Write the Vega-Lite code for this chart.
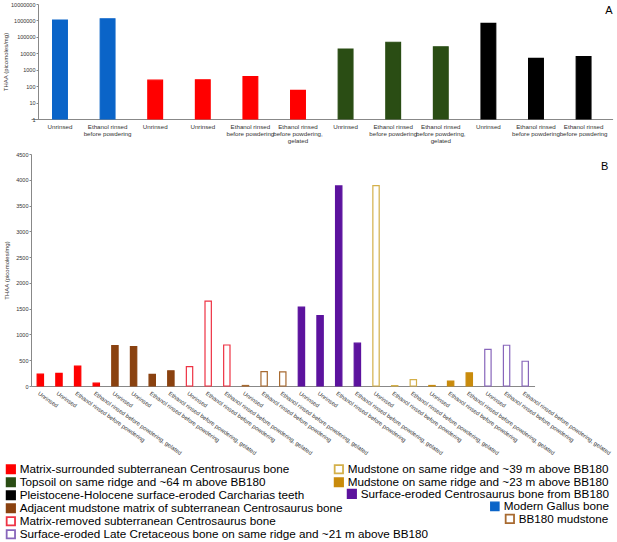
{
  "$schema": "https://vega.github.io/schema/vega-lite/v6.json",
  "padding": {"left": 2, "top": 2, "right": 2, "bottom": 2},
  "background": "white",
  "spacing": 8,
  "align": "none",
  "datasets": {
    "a": [
      {"key": "Unrinsed#a1", "value": 1050000, "group": "Modern Gallus bone"},
      {"key": "Ethanol rinsed|before powdering#a2", "value": 1250000, "group": "Modern Gallus bone"},
      {"key": "Unrinsed#a3", "value": 230, "group": "Matrix-surrounded subterranean Centrosaurus bone"},
      {"key": "Unrinsed#a4", "value": 245, "group": "Matrix-surrounded subterranean Centrosaurus bone"},
      {"key": "Ethanol rinsed|before powdering#a5", "value": 385, "group": "Matrix-surrounded subterranean Centrosaurus bone"},
      {"key": "Ethanol rinsed|before powdering,|gelated#a6", "value": 55, "group": "Matrix-surrounded subterranean Centrosaurus bone"},
      {"key": "Unrinsed#a7", "value": 18000, "group": "Topsoil on same ridge and ~64 m above BB180"},
      {"key": "Ethanol rinsed|before powdering#a8", "value": 47000, "group": "Topsoil on same ridge and ~64 m above BB180"},
      {"key": "Ethanol rinsed|before powdering,|gelated#a9", "value": 25000, "group": "Topsoil on same ridge and ~64 m above BB180"},
      {"key": "Unrinsed#a10", "value": 660000, "group": "Pleistocene-Holocene surface-eroded Carcharias teeth"},
      {"key": "Ethanol rinsed|before powdering#a11", "value": 4900, "group": "Pleistocene-Holocene surface-eroded Carcharias teeth"},
      {"key": "Ethanol rinsed|before powdering#a12", "value": 6200, "group": "Pleistocene-Holocene surface-eroded Carcharias teeth"}
    ],
    "b": [
      {"key": "Unrinsed#b1", "value": 230, "group": "Matrix-surrounded subterranean Centrosaurus bone"},
      {"key": "Unrinsed#b2", "value": 245, "group": "Matrix-surrounded subterranean Centrosaurus bone"},
      {"key": "Ethanol rinsed before powdering#b3", "value": 385, "group": "Matrix-surrounded subterranean Centrosaurus bone"},
      {"key": "Ethanol rinsed before powdering, gelated#b4", "value": 55, "group": "Matrix-surrounded subterranean Centrosaurus bone"},
      {"key": "Unrinsed#b5", "value": 785, "group": "Adjacent mudstone matrix of subterranean Centrosaurus bone"},
      {"key": "Unrinsed#b6", "value": 765, "group": "Adjacent mudstone matrix of subterranean Centrosaurus bone"},
      {"key": "Ethanol rinsed before powdering#b7", "value": 225, "group": "Adjacent mudstone matrix of subterranean Centrosaurus bone"},
      {"key": "Ethanol rinsed before powdering, gelated#b8", "value": 295, "group": "Adjacent mudstone matrix of subterranean Centrosaurus bone"},
      {"key": "Unrinsed#b9", "value": 375, "group": "Matrix-removed subterranean Centrosaurus bone"},
      {"key": "Ethanol rinsed before powdering#b10", "value": 1645, "group": "Matrix-removed subterranean Centrosaurus bone"},
      {"key": "Ethanol rinsed before powdering, gelated#b11", "value": 795, "group": "Matrix-removed subterranean Centrosaurus bone"},
      {"key": "Unrinsed#b12", "value": 10, "group": "BB180 mudstone"},
      {"key": "Ethanol rinsed before powdering#b13", "value": 280, "group": "BB180 mudstone"},
      {"key": "Ethanol rinsed before powdering, gelated#b14", "value": 275, "group": "BB180 mudstone"},
      {"key": "Unrinsed#b15", "value": 1530, "group": "Surface-eroded Centrosaurus bone from BB180"},
      {"key": "Unrinsed#b16", "value": 1365, "group": "Surface-eroded Centrosaurus bone from BB180"},
      {"key": "Ethanol rinsed before powdering#b17", "value": 3880, "group": "Surface-eroded Centrosaurus bone from BB180"},
      {"key": "Ethanol rinsed before powdering, gelated#b18", "value": 830, "group": "Surface-eroded Centrosaurus bone from BB180"},
      {"key": "Unrinsed#b19", "value": 3885, "group": "Mudstone on same ridge and ~39 m above BB180"},
      {"key": "Ethanol rinsed before powdering#b20", "value": 8, "group": "Mudstone on same ridge and ~39 m above BB180"},
      {"key": "Ethanol rinsed before powdering, gelated#b21", "value": 125, "group": "Mudstone on same ridge and ~39 m above BB180"},
      {"key": "Unrinsed#b22", "value": 10, "group": "Mudstone on same ridge and ~23 m above BB180"},
      {"key": "Ethanol rinsed before powdering#b23", "value": 95, "group": "Mudstone on same ridge and ~23 m above BB180"},
      {"key": "Ethanol rinsed before powdering, gelated#b24", "value": 255, "group": "Mudstone on same ridge and ~23 m above BB180"},
      {"key": "Unrinsed#b25", "value": 710, "group": "Surface-eroded Late Cretaceous bone on same ridge and ~21 m above BB180"},
      {"key": "Ethanol rinsed before powdering#b26", "value": 790, "group": "Surface-eroded Late Cretaceous bone on same ridge and ~21 m above BB180"},
      {"key": "Ethanol rinsed before powdering, gelated#b27", "value": 480, "group": "Surface-eroded Late Cretaceous bone on same ridge and ~21 m above BB180"}
    ]
  },
  "vconcat": [
    {
      "data": {"name": "a"},
      "width": {"step": 47.6},
      "height": 115,
      "title": {"text": "A", "anchor": "end", "offset": -14, "fontSize": 11, "fontWeight": "normal", "font": "Liberation Sans", "color": "#000"},
      "mark": {"type": "bar", "strokeWidth": 1.2},
      "encoding": {
        "x": {"field": "key", "type": "nominal", "sort": null,
          "scale": {"paddingInner": 0.69, "paddingOuter": 0.454},
          "axis": {"title": null, "labelAngle": 0, "labelExpr": "split(split(datum.label, '#')[0], '|')", "labelLineHeight": 7, "labelOverlap": false, "ticks": false, "labelPadding": 4, "labelFontSize": 6.2}},
        "y": {"field": "value", "type": "quantitative",
          "scale": {"type": "log", "domain": [1, 10000000]},
          "axis": {"title": "THAA (picomoles/mg)", "values": [1, 10, 100, 1000, 10000, 100000, 1000000, 10000000], "format": "d", "titlePadding": 2, "labelFontSize": 5.5, "labelPadding": 1, "tickSize": 2, "offset": -7}},
        "y2": {"datum": 1},
        "fill": {"field": "group", "type": "nominal",
          "scale": {
            "domain": ["Matrix-surrounded subterranean Centrosaurus bone", "Topsoil on same ridge and ~64 m above BB180", "Pleistocene-Holocene surface-eroded Carcharias teeth", "Adjacent mudstone matrix of subterranean Centrosaurus bone", "Matrix-removed subterranean Centrosaurus bone", "Surface-eroded Late Cretaceous bone on same ridge and ~21 m above BB180", "Mudstone on same ridge and ~39 m above BB180", "Mudstone on same ridge and ~23 m above BB180", "Surface-eroded Centrosaurus bone from BB180", "Modern Gallus bone", "BB180 mudstone"],
            "range": ["#ff0000", "#2a4d14", "#000000", "#8a4210", "#ffffff", "#ffffff", "#ffffff", "#c98b0c", "#5c139e", "#0a64c8", "#ffffff"]},
          "legend": {"title": null, "orient": "none", "legendX": -26, "legendY": 459, "padding": 0,
            "values": ["Matrix-surrounded subterranean Centrosaurus bone", "Topsoil on same ridge and ~64 m above BB180", "Pleistocene-Holocene surface-eroded Carcharias teeth", "Adjacent mudstone matrix of subterranean Centrosaurus bone", "Matrix-removed subterranean Centrosaurus bone", "Surface-eroded Late Cretaceous bone on same ridge and ~21 m above BB180"],
            "symbolType": "square", "symbolSize": 70, "symbolStrokeWidth": 1.8, "labelFontSize": 11.7, "labelFont": "Liberation Sans", "labelColor": "#000", "labelLimit": 500, "rowPadding": 0, "clipHeight": 12.5, "labelOffset": 3,
            "encode": {"symbols": {"update": {"stroke": {"scale": "stroke", "field": "value"}}}}}},
        "stroke": {"field": "group", "type": "nominal",
          "scale": {
            "domain": ["Mudstone on same ridge and ~39 m above BB180", "Mudstone on same ridge and ~23 m above BB180", "Surface-eroded Centrosaurus bone from BB180", "Modern Gallus bone", "BB180 mudstone", "Matrix-surrounded subterranean Centrosaurus bone", "Topsoil on same ridge and ~64 m above BB180", "Pleistocene-Holocene surface-eroded Carcharias teeth", "Adjacent mudstone matrix of subterranean Centrosaurus bone", "Matrix-removed subterranean Centrosaurus bone", "Surface-eroded Late Cretaceous bone on same ridge and ~21 m above BB180"],
            "range": ["#d4b04a", "#c98b0c", "#5c139e", "#0a64c8", "#a86a30", "#ff0000", "#2a4d14", "#000000", "#8a4210", "#ee3344", "#8866bb"]},
          "legend": {"title": null, "orient": "none", "legendX": 302, "legendY": 459, "padding": 0,
            "values": ["Mudstone on same ridge and ~39 m above BB180", "Mudstone on same ridge and ~23 m above BB180"],
            "symbolType": "square", "symbolSize": 70, "symbolStrokeWidth": 1.8, "symbolFillColor": "white", "labelFontSize": 11.7, "labelFont": "Liberation Sans", "labelColor": "#000", "labelLimit": 500, "rowPadding": 0, "clipHeight": 12.5, "labelOffset": 3,
            "encode": {"symbols": {"update": {"fill": {"scale": "fill", "field": "value"}}}}}},
        "opacity": {"field": "group", "type": "nominal",
          "scale": {"type": "ordinal",
            "domain": ["Surface-eroded Centrosaurus bone from BB180", "Mudstone on same ridge and ~39 m above BB180", "Mudstone on same ridge and ~23 m above BB180", "Modern Gallus bone", "BB180 mudstone", "Matrix-surrounded subterranean Centrosaurus bone", "Topsoil on same ridge and ~64 m above BB180", "Pleistocene-Holocene surface-eroded Carcharias teeth", "Adjacent mudstone matrix of subterranean Centrosaurus bone", "Matrix-removed subterranean Centrosaurus bone", "Surface-eroded Late Cretaceous bone on same ridge and ~21 m above BB180"],
            "range": [1, 1, 1, 1, 1, 1, 1, 1, 1, 1, 1]},
          "legend": {"title": null, "orient": "none", "legendX": 315, "legendY": 484, "padding": 0,
            "values": ["Surface-eroded Centrosaurus bone from BB180"],
            "symbolType": "square", "symbolSize": 70, "symbolStrokeWidth": 1.8, "symbolFillColor": "white", "symbolStrokeColor": "white", "labelFontSize": 11.7, "labelFont": "Liberation Sans", "labelColor": "#000", "labelLimit": 500, "labelOffset": 3,
            "encode": {"symbols": {"update": {"fill": {"scale": "fill", "field": "value"}, "stroke": {"scale": "stroke", "field": "value"}}}}}},
        "strokeWidth": {"field": "group", "type": "nominal",
          "scale": {"type": "ordinal",
            "domain": ["Modern Gallus bone", "Surface-eroded Centrosaurus bone from BB180", "Mudstone on same ridge and ~39 m above BB180", "Mudstone on same ridge and ~23 m above BB180", "BB180 mudstone", "Matrix-surrounded subterranean Centrosaurus bone", "Topsoil on same ridge and ~64 m above BB180", "Pleistocene-Holocene surface-eroded Carcharias teeth", "Adjacent mudstone matrix of subterranean Centrosaurus bone", "Matrix-removed subterranean Centrosaurus bone", "Surface-eroded Late Cretaceous bone on same ridge and ~21 m above BB180"],
            "range": [1.2, 1.2, 1.2, 1.2, 1.2, 1.2, 1.2, 1.2, 1.2, 1.2, 1.2]},
          "legend": {"title": null, "orient": "none", "legendX": 458, "legendY": 496.5, "padding": 0,
            "values": ["Modern Gallus bone"],
            "symbolType": "square", "symbolSize": 70, "symbolStrokeWidth": 1.8, "symbolFillColor": "white", "symbolStrokeColor": "white", "labelFontSize": 11.7, "labelFont": "Liberation Sans", "labelColor": "#000", "labelLimit": 500, "labelOffset": 3,
            "encode": {"symbols": {"update": {"fill": {"scale": "fill", "field": "value"}, "stroke": {"scale": "stroke", "field": "value"}, "strokeWidth": {"value": 1.8}}}}}},
        "strokeDash": {"field": "group", "type": "nominal",
          "scale": {"type": "ordinal",
            "domain": ["BB180 mudstone", "Modern Gallus bone", "Surface-eroded Centrosaurus bone from BB180", "Mudstone on same ridge and ~39 m above BB180", "Mudstone on same ridge and ~23 m above BB180", "Matrix-surrounded subterranean Centrosaurus bone", "Topsoil on same ridge and ~64 m above BB180", "Pleistocene-Holocene surface-eroded Carcharias teeth", "Adjacent mudstone matrix of subterranean Centrosaurus bone", "Matrix-removed subterranean Centrosaurus bone", "Surface-eroded Late Cretaceous bone on same ridge and ~21 m above BB180"],
            "range": [[1, 0], [1, 0], [1, 0], [1, 0], [1, 0], [1, 0], [1, 0], [1, 0], [1, 0], [1, 0], [1, 0]]},
          "legend": {"title": null, "orient": "none", "legendX": 473, "legendY": 509, "padding": 0,
            "values": ["BB180 mudstone"],
            "symbolType": "square", "symbolSize": 70, "symbolStrokeWidth": 1.8, "symbolFillColor": "white", "symbolStrokeColor": "white", "labelFontSize": 11.7, "labelFont": "Liberation Sans", "labelColor": "#000", "labelLimit": 500, "labelOffset": 3,
            "encode": {"symbols": {"update": {"fill": {"scale": "fill", "field": "value"}, "stroke": {"scale": "stroke", "field": "value"}, "strokeWidth": {"value": 1.8}}}}}}
      }
    },
    {
      "data": {"name": "b"},
      "width": {"step": 18.65},
      "height": 232,
      "title": {"text": "B", "anchor": "end", "offset": -20, "dx": -3, "fontSize": 11, "fontWeight": "normal", "font": "Liberation Sans", "color": "#000"},
      "mark": {"type": "bar", "strokeWidth": 1.2},
      "encoding": {
        "x": {"field": "key", "type": "nominal", "sort": null,
          "scale": {"paddingInner": 0.66, "paddingOuter": 0.33},
          "axis": {"title": null, "labelAngle": 35, "labelAlign": "left", "labelBaseline": "top", "labelExpr": "split(datum.label, '#')[0]", "labelOverlap": false, "ticks": false, "labelPadding": 4, "labelFontSize": 5.8, "labelLimit": 300}},
        "y": {"field": "value", "type": "quantitative",
          "scale": {"domain": [0, 4500]},
          "axis": {"title": "THAA (picomoles/mg)", "values": [0, 500, 1000, 1500, 2000, 2500, 3000, 3500, 4000, 4500], "format": "d", "titlePadding": 6.5, "labelFontSize": 5.5, "labelPadding": 1, "tickSize": 2}},
        "fill": {"field": "group", "type": "nominal",
          "scale": {
            "domain": ["Matrix-surrounded subterranean Centrosaurus bone", "Topsoil on same ridge and ~64 m above BB180", "Pleistocene-Holocene surface-eroded Carcharias teeth", "Adjacent mudstone matrix of subterranean Centrosaurus bone", "Matrix-removed subterranean Centrosaurus bone", "Surface-eroded Late Cretaceous bone on same ridge and ~21 m above BB180", "Mudstone on same ridge and ~39 m above BB180", "Mudstone on same ridge and ~23 m above BB180", "Surface-eroded Centrosaurus bone from BB180", "Modern Gallus bone", "BB180 mudstone"],
            "range": ["#ff0000", "#2a4d14", "#000000", "#8a4210", "#ffffff", "#ffffff", "#ffffff", "#c98b0c", "#5c139e", "#0a64c8", "#ffffff"]}},
        "stroke": {"field": "group", "type": "nominal",
          "scale": {
            "domain": ["Mudstone on same ridge and ~39 m above BB180", "Mudstone on same ridge and ~23 m above BB180", "Surface-eroded Centrosaurus bone from BB180", "Modern Gallus bone", "BB180 mudstone", "Matrix-surrounded subterranean Centrosaurus bone", "Topsoil on same ridge and ~64 m above BB180", "Pleistocene-Holocene surface-eroded Carcharias teeth", "Adjacent mudstone matrix of subterranean Centrosaurus bone", "Matrix-removed subterranean Centrosaurus bone", "Surface-eroded Late Cretaceous bone on same ridge and ~21 m above BB180"],
            "range": ["#d4b04a", "#c98b0c", "#5c139e", "#0a64c8", "#a86a30", "#ff0000", "#2a4d14", "#000000", "#8a4210", "#ee3344", "#8866bb"]}}
      }
    }
  ],
  "config": {
    "view": {"stroke": null},
    "font": "Liberation Sans",
    "axis": {"grid": false, "domainColor": "#888", "tickColor": "#888", "labelColor": "#333", "titleColor": "#333", "labelFont": "Liberation Sans", "titleFont": "Liberation Sans", "labelFontSize": 6, "titleFontSize": 6, "titleFontWeight": "normal", "tickSize": 3, "labelPadding": 2}
  }
}
